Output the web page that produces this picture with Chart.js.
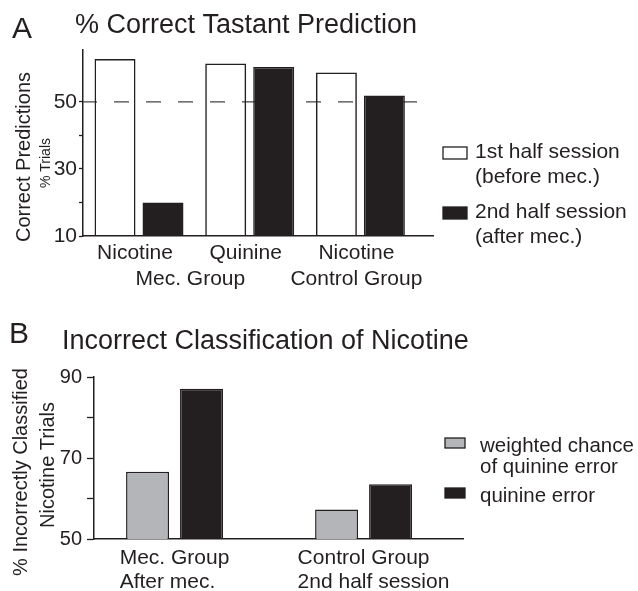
<!DOCTYPE html>
<html>
<head>
<meta charset="utf-8">
<script src="https://cdn.jsdelivr.net/npm/chart.js@4.4.1/dist/chart.umd.min.js"></script>
<style>
  html, body { margin: 0; padding: 0; background: #fff; }
  #wrap { position: relative; width: 638px; height: 591px; }
  canvas { position: absolute; left: 0; }
  #chartA { top: 0; }
  #chartB { top: 295px; }
</style>
</head>
<body>
<div id="wrap">
  <canvas id="chartA" width="638" height="295"></canvas>
  <canvas id="chartB" width="638" height="296"></canvas>
</div>
<script>
// ── Panel A data ─────────────────────────────────────────────────────────────
const A_TITLE       = '% Correct Tastant Prediction';
const A_TASTANTS    = ['Nicotine', 'Quinine', 'Nicotine'];
const A_GROUPS      = ['Mec. Group', 'Control Group'];
const A_GROUP_OF    = [0, 0, 1];            // group each tastant sits under
const A_FIRST_HALF  = [62.8, 61.5, 58.8];
const A_SECOND_HALF = [20.0, 60.4, 51.9];
const A_SERIES      = [['1st half session', '(before mec.)'], ['2nd half session', '(after mec.)']];
const A_Y_LABELS    = [10, 30, 50];
const A_CHANCE      = 50;

// ── Panel B data ─────────────────────────────────────────────────────────────
const B_TITLE        = 'Incorrect Classification of Nicotine';
const B_CATEGORIES   = [['Mec. Group', 'After mec.'], ['Control Group', '2nd half session']];
const B_WEIGHTED     = [66.6, 57.3];
const B_QUININE      = [87.1, 63.5];
const B_SERIES       = [['weighted chance', 'of quinine error'], ['quinine error']];
const B_Y_LABELS     = [50, 70, 90];

// ── Helpers ───────────────────────────────────────────────────────────────────
const INK  = '#231f20';
const GREY = '#b4b5b8';
const FONT = '"Liberation Sans", Arial, Helvetica, sans-serif';
Chart.defaults.font.family = FONT;
Chart.defaults.color = INK;

function text(ctx, str, x, y, size, align) {
  ctx.save();
  ctx.font = size + 'px ' + FONT;
  ctx.textAlign = align || 'left';
  ctx.textBaseline = 'alphabetic';
  ctx.fillStyle = INK;
  ctx.fillText(str, x, y);
  ctx.restore();
}

function vtext(ctx, str, x, y, size) {
  ctx.save();
  ctx.translate(x, y);
  ctx.rotate(-Math.PI / 2);
  text(ctx, str, 0, 0, size, 'center');
  ctx.restore();
}

function drawLegend(chart, o) {
  const ctx = chart.ctx;
  chart.data.datasets.forEach((ds, i) => {
    const top = o.top + i * o.step;
    ctx.save();
    ctx.fillStyle = ds.legendFill || ds.backgroundColor;
    ctx.fillRect(o.x, top, o.w, o.h);
    ctx.strokeStyle = ds.borderColor;
    ctx.lineWidth = 1.3;
    ctx.strokeRect(o.x, top, o.w, o.h);
    ctx.restore();
    ds.label.forEach((line, j) => text(ctx, line, o.tx, o.base + i * o.step + j * o.line, o.size));
  });
}

const onInts = s => { s.ticks = s.ticks.filter(t => Number.isInteger(t.value)); };
const onTens = s => { s.ticks = s.ticks.filter(t => t.value % 10 === 0); };

function yAxis(min, max, width, labels, tickLen, pad, size) {
  return {
    min, max,
    afterFit: s => { s.width = width; },
    afterBuildTicks: onTens,
    ticks: { stepSize: 10, autoSkip: false, padding: pad, font: { size }, color: INK,
             callback: v => labels.includes(v) ? v : '' },
    grid: { display: true, drawOnChartArea: false, drawTicks: true, tickLength: tickLen, tickColor: INK, tickWidth: 1.3 },
    border: { display: true, color: INK, width: 1.5 },
  };
}

// linear index axis so group spacing follows min/max; offset must stay off
function xAxis(min, max, height) {
  return {
    type: 'linear', min, max,
    offset: false,
    bounds: 'data',
    afterBuildTicks: onInts,
    afterFit: s => { s.height = height; },
    ticks: { display: false, stepSize: 1 },
    grid: { display: false, drawTicks: false, offset: false },
    border: { display: true, color: INK, width: 1.5 },
  };
}

const pts = arr => arr.map((v, i) => ({ x: i, y: v }));

// ── Panel A ───────────────────────────────────────────────────────────────────
const panelA = {
  id: 'panelA',
  beforeDatasetsDraw(chart) {
    const { ctx, chartArea: a, scales: { y } } = chart;
    const py = y.getPixelForValue(A_CHANCE);
    ctx.save();
    ctx.strokeStyle = '#444';
    ctx.lineWidth = 1.3;
    ctx.setLineDash([15, 17]);
    ctx.lineDashOffset = 1;
    ctx.beginPath();
    ctx.moveTo(a.left, py);
    ctx.lineTo(a.right, py);
    ctx.stroke();
    ctx.restore();
  },
  afterDraw(chart) {
    const { ctx, scales: { x } } = chart;
    text(ctx, 'A', 12, 38, 30);
    text(ctx, A_TITLE, 75, 33, 27);
    vtext(ctx, 'Correct Predictions', 30, 157, 20);
    vtext(ctx, '% Trials', 50, 163, 14);
    A_TASTANTS.forEach((t, i) => text(ctx, t, x.getPixelForValue(i) - 4, 259, 21, 'center'));
    A_GROUPS.forEach((g, gi) => {
      const idx = A_GROUP_OF.map((v, i) => v === gi ? i : -1).filter(i => i >= 0);
      const cx = idx.reduce((s, i) => s + x.getPixelForValue(i), 0) / idx.length;
      text(ctx, g, cx - 4, 285, 21, 'center');
    });
    drawLegend(chart, { x: 443, top: 147, w: 24, h: 12, tx: 475, base: 158, line: 25, step: 60, size: 21 });
  },
};

new Chart(document.getElementById('chartA'), {
  type: 'bar',
  data: {
    datasets: [
      { label: A_SERIES[0], data: pts(A_FIRST_HALF), backgroundColor: 'rgba(255,255,255,0)', legendFill: '#fff',
        borderColor: INK, borderWidth: 1.5, categoryPercentage: 0.867, barPercentage: 0.854 },
      { label: A_SERIES[1], data: pts(A_SECOND_HALF), backgroundColor: INK,
        borderColor: INK, borderWidth: 1.5, categoryPercentage: 0.867, barPercentage: 0.854 },
    ],
  },
  options: {
    responsive: false,
    animation: false,
    layout: { padding: { top: 50, right: 205, left: 0, bottom: 0 } },
    plugins: { legend: { display: false }, tooltip: { enabled: false } },
    scales: {
      x: xAxis(-0.506, 2.656, 59),
      y: yAxis(10, 65.5, 83, A_Y_LABELS, 4, 2, 21),
    },
  },
  plugins: [panelA],
});

// ── Panel B ───────────────────────────────────────────────────────────────────
const panelB = {
  id: 'panelB',
  afterDraw(chart) {
    const { ctx, scales: { x } } = chart;
    text(ctx, 'B', 9, 48, 30);
    text(ctx, B_TITLE, 62, 54, 27);
    vtext(ctx, '% Incorrectly Classified', 27, 177, 20);
    vtext(ctx, 'Nicotine Trials', 54, 170, 20);
    B_CATEGORIES.forEach((lines, i) => {
      ctx.save();
      ctx.font = '21px ' + FONT;
      const left = x.getPixelForValue(i) - ctx.measureText(lines[0]).width / 2;
      ctx.restore();
      lines.forEach((l, j) => text(ctx, l, left, 269 + j * 24, 21));
    });
    drawLegend(chart, { x: 445, top: 143, w: 20, h: 10, tx: 480, base: 157, line: 21, step: 50, size: 20.5 });
  },
};

new Chart(document.getElementById('chartB'), {
  type: 'bar',
  data: {
    datasets: [
      { label: B_SERIES[0], data: pts(B_WEIGHTED), backgroundColor: GREY,
        borderColor: INK, borderWidth: 1.5, categoryPercentage: 0.571, barPercentage: 0.796 },
      { label: B_SERIES[1], data: pts(B_QUININE), backgroundColor: INK,
        borderColor: INK, borderWidth: 1.5, categoryPercentage: 0.571, barPercentage: 0.796 },
    ],
  },
  options: {
    responsive: false,
    animation: false,
    layout: { padding: { top: 82, right: 175, left: 0, bottom: 0 } },
    plugins: { legend: { display: false }, tooltip: { enabled: false } },
    scales: {
      x: xAxis(-0.426, 1.526, 52),
      y: yAxis(50, 90, 94, B_Y_LABELS, 7, 5, 20),
    },
  },
  plugins: [panelB],
});
</script>
</body>
</html>
